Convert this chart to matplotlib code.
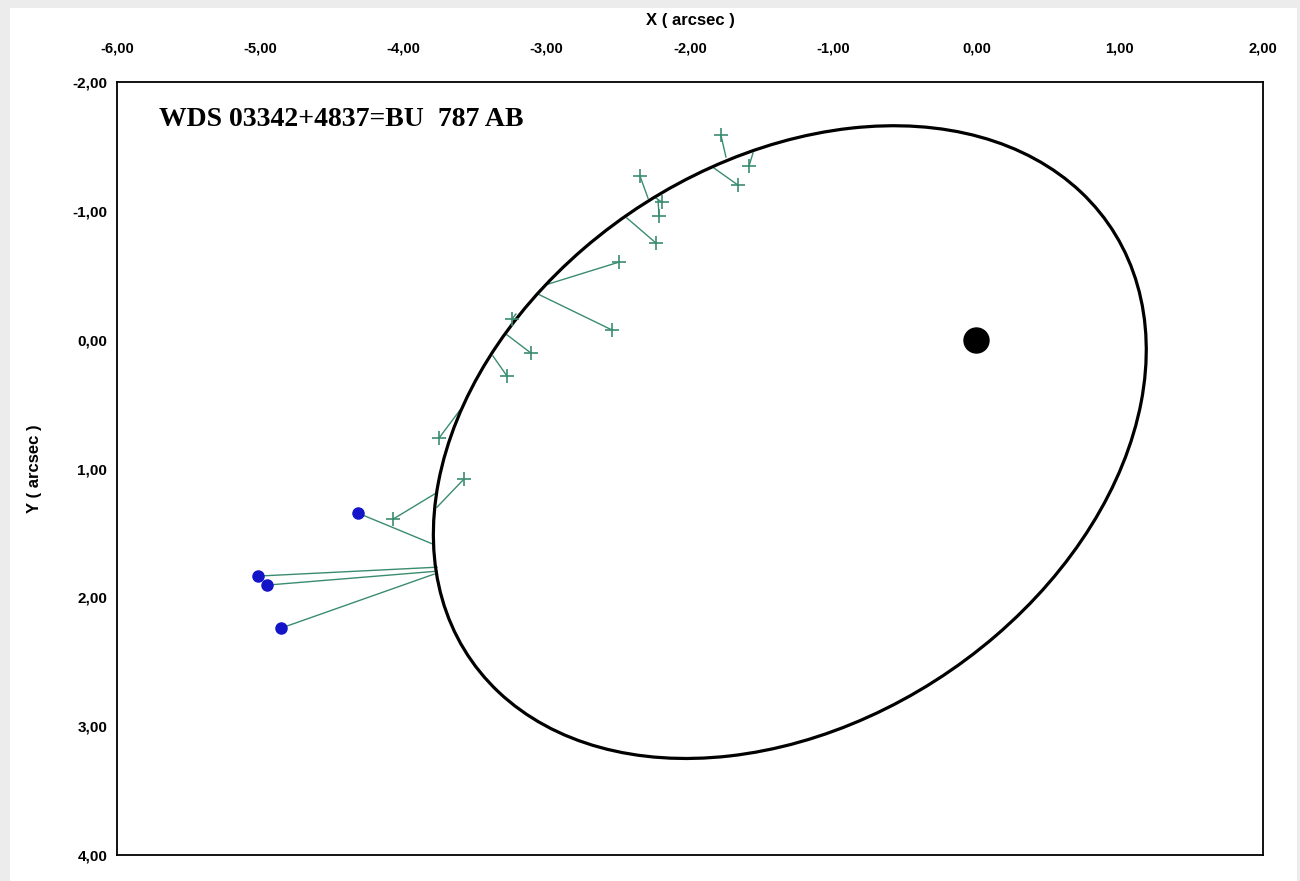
import matplotlib.pyplot as plt
from matplotlib.patches import Ellipse, Rectangle
from matplotlib.ticker import FuncFormatter, MultipleLocator

# --- Orbit (apparent ellipse, arcsec) ---
orbit_center = (-1.303, 0.795)
orbit_a = 2.810
orbit_b = 2.080
orbit_angle = -43.7  # degrees

# --- Measures (observed) and ephemeris positions ---
obs_x = [-1.784, -1.588, -1.665, -2.349, -2.196, -2.216, -2.237, -2.496,
         -2.544, -3.243, -3.110, -3.277, -3.752, -3.578, -4.073]
obs_y = [-1.588, -1.348, -1.200, -1.270, -1.068, -0.960, -0.750, -0.602,
         -0.075, -0.160, 0.104, 0.283, 0.764, 1.082, 1.393]
calc_x = [-1.749, -1.560, -1.832, -2.293, -2.237, -2.223, -2.440, -3.012,
          -3.061, -3.215, -3.284, -3.375, -3.606, -3.766, -3.773]
calc_y = [-1.418, -1.449, -1.332, -1.099, -1.099, -1.084, -0.944, -0.424,
          -0.354, -0.199, -0.043, 0.127, 0.547, 1.300, 1.191]

# --- Other measures (blue) ---
blue_x = [-4.318, -5.016, -4.953, -4.855]
blue_y = [1.346, 1.835, 1.905, 2.239]
blue_calc_x = [-3.794, -3.766, -3.766, -3.787]
blue_calc_y = [1.587, 1.766, 1.797, 1.820]

title = "WDS 03342+4837=BU  787 AB"

green = "#3a8c6e"
blue = "#1414c8"

fig = plt.figure(figsize=(13, 8.81), dpi=100)
fig.patch.set_facecolor("#ececec")
fig.patches.append(Rectangle((0.008, 0.0), 0.99, 0.991, transform=fig.transFigure,
                             facecolor="white", edgecolor="none", zorder=-10))
ax = fig.add_axes([0.09, 0.0295, 0.8815, 0.8774])

ax.add_patch(Ellipse(orbit_center, 2 * orbit_a, 2 * orbit_b, angle=orbit_angle,
                     fill=False, edgecolor="black", lw=2.3, zorder=3))

for ox, oy, cx, cy in zip(obs_x, obs_y, calc_x, calc_y):
    ax.plot([ox, cx], [oy, cy], color=green, lw=1.0, zorder=2)
ax.plot(obs_x, obs_y, "+", color=green, ms=10, mew=1.2, zorder=4)

for ox, oy, cx, cy in zip(blue_x, blue_y, blue_calc_x, blue_calc_y):
    ax.plot([ox, cx], [oy, cy], color=green, lw=1.0, zorder=2)
ax.plot(blue_x, blue_y, "o", color=blue, ms=8, zorder=4)

# primary star
ax.plot([0], [0], "o", color="black", ms=18, zorder=5)

ax.set_xlim(-6, 2)
ax.set_ylim(4, -2)
ax.xaxis.tick_top()
ax.xaxis.set_label_position("top")
ax.xaxis.set_major_locator(MultipleLocator(1))
ax.yaxis.set_major_locator(MultipleLocator(1))
fmt = FuncFormatter(lambda v, p: f"{v:.2f}".replace(".", ","))
ax.xaxis.set_major_formatter(fmt)
ax.yaxis.set_major_formatter(fmt)
ax.tick_params(axis="x", length=0, pad=19)
ax.tick_params(axis="y", length=0, pad=7)
for lab in ax.get_xticklabels():
    lab.set_fontfamily(["Liberation Sans", "DejaVu Sans"])
    lab.set_fontweight("bold")
    lab.set_fontsize(10.5)
for lab in ax.get_yticklabels():
    lab.set_fontfamily(["Liberation Sans", "DejaVu Sans"])
    lab.set_fontweight("bold")
    lab.set_fontsize(11)

ax.set_xlabel("X ( arcsec )", fontsize=12, fontweight="bold",
              fontfamily=["Liberation Sans", "DejaVu Sans"], labelpad=12)
ax.set_ylabel("Y ( arcsec )", fontsize=12, fontweight="bold",
              fontfamily=["Liberation Sans", "DejaVu Sans"], labelpad=22)

for s in ax.spines.values():
    s.set_linewidth(1.3)
    s.set_color("black")

ax.text(0.037, 0.951, title, transform=ax.transAxes, ha="left", va="center",
        fontsize=20, fontweight="bold", fontfamily=["Liberation Serif", "DejaVu Serif"])

fig.savefig("out.png", dpi=100)
